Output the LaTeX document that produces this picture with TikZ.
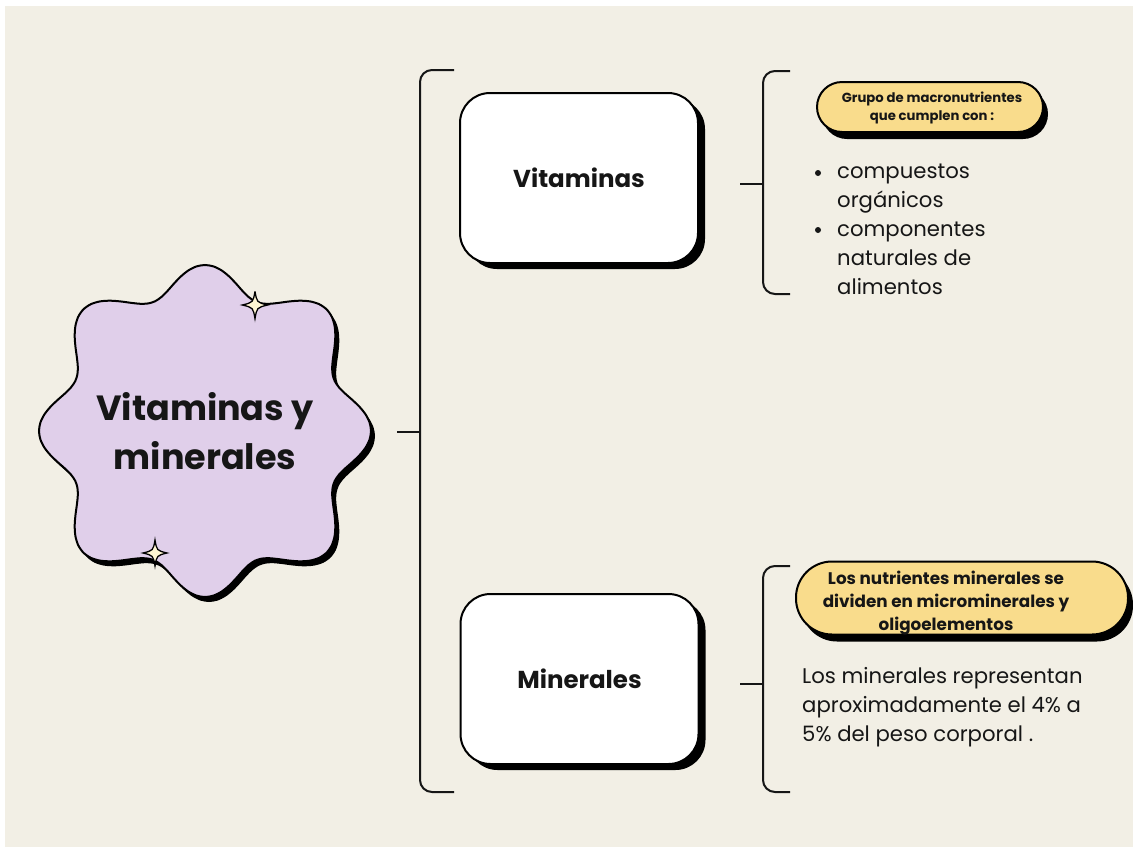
\documentclass[tikz,border=0pt]{standalone}
\usepackage{fontspec}
\setmainfont{Poppins}
\usetikzlibrary{shadows}
\definecolor{cream}{HTML}{F2EFE5}
\definecolor{lilac}{HTML}{E0CFEA}
\definecolor{butter}{HTML}{F9DC8C}
\definecolor{spark}{HTML}{FFF6D2}
\definecolor{ink}{HTML}{161616}
\newcommand\sparkle[3]{\filldraw[fill=spark, draw=black, line width=1.3pt, shift={(#1,#2)}, scale=#3]
  (0,-13) .. controls (1.8,-2.5) .. (12,0) .. controls (1.8,2.5) .. (0,13) .. controls (-1.8,2.5) .. (-12,0) .. controls (-1.8,-2.5) .. cycle;}
\newcommand\wavyplot{plot[domain=0:357, samples=120, smooth cycle, variable=\t]
  ({(154+15*cos(8*\t)-3*cos(4*\t))*cos(\t)}, {(154+15*cos(8*\t)-3*cos(4*\t))*sin(\t)})}
\begin{document}
\begin{tikzpicture}[x=1pt,y=-1pt,
  conn/.style={draw=ink, line width=2pt, rounded corners=12pt},
  card/.style={draw=black, line width=2pt, fill=white, rounded corners=30pt,
    minimum width=238pt, minimum height=170pt, text=ink,
    font=\fontsize{24.5}{28}\selectfont\bfseries,
    general shadow={fill=black, shadow xshift=7pt, shadow yshift=-6pt}},
  pill/.style={draw=black, line width=2pt, fill=butter,
    general shadow={fill=black, shadow xshift=5pt, shadow yshift=-7pt}},
  pilltext/.style={align=center, text=ink, inner sep=0pt},
  body/.style={font=\fontsize{21.2}{29}\selectfont, inner sep=0pt, text=ink},
  dot/.style={circle, fill=ink, inner sep=0pt, minimum size=6pt},
]
% page and background
\fill[white] (0,0) rectangle (1133,849);
\fill[cream] (5,6) rectangle (1133,847);

% central wavy badge
\fill[black, shift={(209,436)}] \wavyplot;
\filldraw[fill=lilac, draw=black, line width=2pt, shift={(205,431)}] \wavyplot;
\sparkle{255}{305}{1.05}
\sparkle{155}{553}{1.0}
\node[font=\fontsize{35}{49}\selectfont\bfseries, align=center, text=ink] (main) at (205,431) {Vitaminas y\\minerales};

% main bracket
\coordinate (stubL) at (397,432);
\coordinate (spine) at (420,432);
\coordinate (btop) at (454,70);
\coordinate (bbot) at (454,792);
\draw[conn] (stubL) -- (spine);
\draw[conn] (btop) -| (spine) |- (bbot);

% cards
\node[card] (vit) at (579,178) {Vitaminas};
\node[card] (min) at (579.5,679) {Minerales};

% vitaminas bracket
\coordinate (vstubL) at (740,184);
\coordinate (vspine) at (763,184);
\coordinate (vtop) at (790,71);
\coordinate (vbot) at (790,294);
\draw[conn] (vstubL) -- (vspine);
\draw[conn] (vtop) -| (vspine) |- (vbot);

% minerales bracket
\coordinate (mstubL) at (740,684);
\coordinate (mspine) at (763,684);
\coordinate (mtop) at (790,566);
\coordinate (mbot) at (790,792);
\draw[conn] (mstubL) -- (mspine);
\draw[conn] (mtop) -| (mspine) |- (mbot);

% pill 1
\node[pill, minimum width=226pt, minimum height=50pt, rounded corners=25pt] (p1) at (930,107) {};
\node[pilltext, font=\fontsize{13.2}{18}\selectfont\bfseries] (p1t) at (932,108) {Grupo de macronutrientes\\que cumplen con :};

% bullet list
\node[dot] (d1) at (818,173) {};
\node[dot] (d2) at (818,230) {};
\node[body, anchor=north west] (list) at (837,158) {%
\begin{tabular}{@{}l@{}}
compuestos\\
orgánicos\\
componentes\\
naturales de\\
alimentos
\end{tabular}};

% pill 2
\node[pill, minimum width=332pt, minimum height=73pt, rounded corners=36pt] (p2) at (962,598) {};
\node[pilltext, font=\fontsize{16.8}{23}\selectfont\bfseries] (p2t) at (946,603) {Los nutrientes minerales se\\dividen en microminerales y\\oligoelementos};

% minerales paragraph
\node[body, anchor=north west] (mpar) at (802,663) {%
\begin{tabular}{@{}l@{}}
Los minerales representan\\
aproximadamente el 4\% a\\
5\% del peso corporal .
\end{tabular}};
\end{tikzpicture}
\end{document}
